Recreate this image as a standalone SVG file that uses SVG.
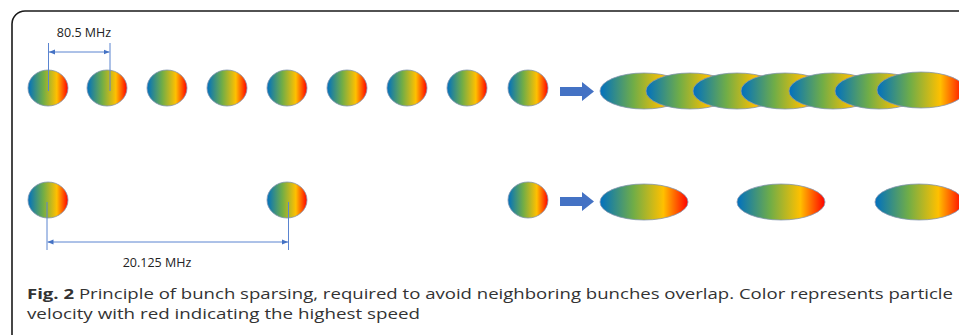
<svg xmlns="http://www.w3.org/2000/svg" width="959" height="335" viewBox="0 0 959 335">
<defs>
<linearGradient id="g" x1="0" y1="0" x2="1" y2="0">
<stop offset="0" stop-color="#0070C0"/>
<stop offset="0.38" stop-color="#70AD47"/>
<stop offset="0.72" stop-color="#FFC000"/>
<stop offset="1" stop-color="#FF0000"/>
</linearGradient>
<marker id="ah" viewBox="0 0 10 10" refX="10" refY="5" markerWidth="6" markerHeight="6" orient="auto-start-reverse" markerUnits="userSpaceOnUse">
<path d="M0,1 L10,5 L0,9 z" fill="#4472C4"/>
</marker>
</defs>
<style>
.b{fill:url(#g);stroke:#8496B0;stroke-width:0.8}
.dim{stroke:#5B84D0;stroke-width:1;fill:none}
.fat{fill:#4472C4}
.lbl{font-family:"Open Sans","Noto Sans",sans-serif;font-size:12.5px;fill:#222}
.cap{font-family:"Open Sans","Noto Sans",sans-serif;font-size:14.5px;fill:#333}
</style>
<rect x="12" y="11" width="1000" height="400" rx="13" fill="none" stroke="#1a1a1a" stroke-width="1.6"/>

<g id="row1-bunches">
<g id="b1"><ellipse class="b" cx="48" cy="88" rx="20" ry="18"/></g>
<g id="b2"><ellipse class="b" cx="107" cy="88" rx="20" ry="18"/></g>
<g id="b3"><ellipse class="b" cx="167" cy="88" rx="20" ry="18"/></g>
<g id="b4"><ellipse class="b" cx="227" cy="88" rx="20" ry="18"/></g>
<g id="b5"><ellipse class="b" cx="287" cy="88" rx="20" ry="18"/></g>
<g id="b6"><ellipse class="b" cx="347" cy="88" rx="20" ry="18"/></g>
<g id="b7"><ellipse class="b" cx="407" cy="88" rx="20" ry="18"/></g>
<g id="b8"><ellipse class="b" cx="467" cy="88" rx="20" ry="18"/></g>
<g id="b9"><ellipse class="b" cx="528" cy="88" rx="20" ry="18"/></g>
</g>
<g id="row1-stretched">
<g id="e1"><ellipse class="b" cx="644" cy="91" rx="44" ry="18"/></g>
<g id="e2"><ellipse class="b" cx="690" cy="91" rx="44" ry="18"/></g>
<g id="e3"><ellipse class="b" cx="737" cy="91" rx="44" ry="18"/></g>
<g id="e4"><ellipse class="b" cx="785" cy="91" rx="44" ry="18"/></g>
<g id="e5"><ellipse class="b" cx="833" cy="91" rx="44" ry="18"/></g>
<g id="e6"><ellipse class="b" cx="879" cy="91" rx="44" ry="18"/></g>
<g id="e7"><ellipse class="b" cx="921" cy="90" rx="44" ry="18"/></g>
</g>

<g id="row2-bunches">
<g id="c1"><ellipse class="b" cx="48" cy="200" rx="20" ry="18"/></g>
<g id="c2"><ellipse class="b" cx="287" cy="200" rx="20" ry="18"/></g>
<g id="c3"><ellipse class="b" cx="528" cy="200" rx="20" ry="18"/></g>
</g>
<g id="row2-stretched">
<g id="f1"><ellipse class="b" cx="644" cy="202" rx="44" ry="18"/></g>
<g id="f2"><ellipse class="b" cx="781" cy="202" rx="44" ry="18"/></g>
<g id="f3"><ellipse class="b" cx="919" cy="202" rx="44" ry="18"/></g>
</g>

<g id="connectors">
<line class="dim" x1="48.5" y1="43" x2="48.5" y2="91"/>
<line class="dim" x1="110" y1="43" x2="110" y2="91"/>
<line class="dim" x1="49" y1="52" x2="109.5" y2="52" marker-start="url(#ah)" marker-end="url(#ah)"/>
<line class="dim" x1="47" y1="202" x2="47" y2="250"/>
<line class="dim" x1="288.5" y1="202" x2="288.5" y2="250"/>
<line class="dim" x1="47.5" y1="242" x2="288" y2="242" marker-start="url(#ah)" marker-end="url(#ah)"/>
<path class="fat" d="M560,87 H582 V82 L594,91.5 L582,101 V96 H560 z"/>
<path class="fat" d="M560,197 H582 V192 L594,201.5 L582,211 V206 H560 z"/>
</g>

<g id="labels">
<text class="lbl" x="84" y="36.5" text-anchor="middle">80.5 MHz</text>
<text class="lbl" x="157" y="266.5" text-anchor="middle">20.125 MHz</text>
</g>

<g id="caption">
<text class="cap" x="27" y="298.5" textLength="926" lengthAdjust="spacingAndGlyphs"><tspan font-weight="bold">Fig. 2</tspan> Principle of bunch sparsing, required to avoid neighboring bunches overlap. Color represents particle</text>
<text class="cap" x="27" y="318.5" textLength="393" lengthAdjust="spacingAndGlyphs">velocity with red indicating the highest speed</text>
</g>
</svg>
